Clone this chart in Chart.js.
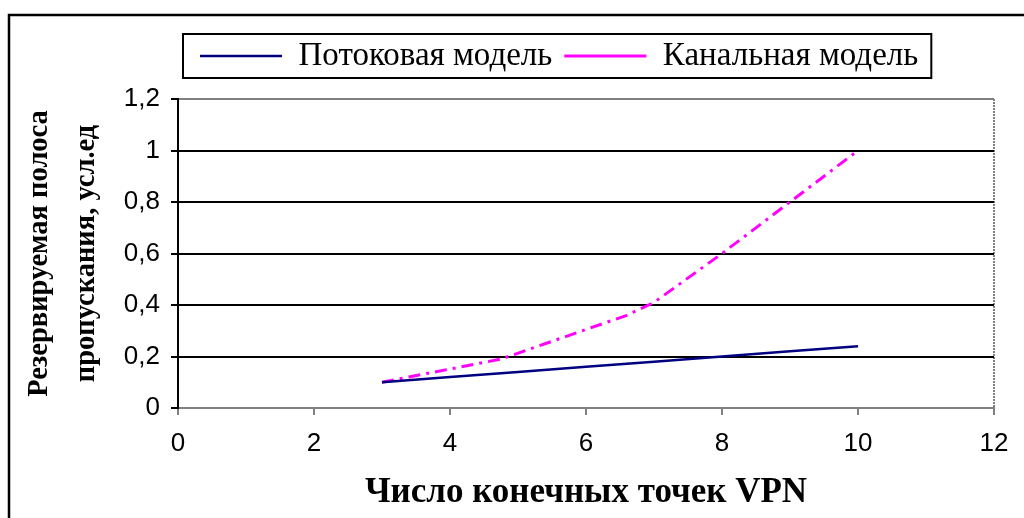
<!DOCTYPE html>
<html>
<head>
<meta charset="utf-8">
<script src="https://cdn.jsdelivr.net/npm/chart.js@4/dist/chart.umd.min.js"></script>
<style>
  html, body { margin: 0; padding: 0; background: #fff; }
  canvas { display: block; }
</style>
</head>
<body>
<canvas id="c" width="1024" height="518" style="width:1024px;height:518px"></canvas>
<script>
// Reserved bandwidth vs. number of VPN endpoints
const seriesNames = ['Потоковая модель', 'Канальная модель'];
const flowX = [3, 4, 5, 6, 7, 8, 9, 10];
const flowY = [0.1, 0.12, 0.14, 0.16, 0.18, 0.2, 0.22, 0.24];
const channelX = [3, 4.75, 6.6, 7, 8, 9, 10];
const channelY = [0.1, 0.19, 0.36, 0.41, 0.6, 0.8, 1.0];
const xTicks = [0, 2, 4, 6, 8, 10, 12];
const yTicks = [0, 0.2, 0.4, 0.6, 0.8, 1, 1.2];
const xTitle = 'Число конечных точек VPN';
const yTitle = ['Резервируемая полоса', 'пропускания, усл.ед'];

const toPoints = (xs, ys) => xs.map((x, i) => ({ x, y: ys[i] }));

// Legend sits in its own framed box above the plot, a little left of centre
const LEGEND_LEFT = 188;
const LEGEND_TOP = 27.5;

const framePlugin = {
  id: 'frames',
  afterLayout(chart) {
    const lg = chart.legend;
    if (!lg) return;
    const h = lg.bottom - lg.top;
    const w = lg.right - lg.left;
    lg.left = LEGEND_LEFT;
    lg.right = LEGEND_LEFT + w;
    lg.top = LEGEND_TOP;
    lg.bottom = LEGEND_TOP + h;
  },
  afterDraw(chart) {
    const ctx = chart.ctx;
    ctx.save();
    ctx.strokeStyle = '#000';
    ctx.lineWidth = 2.5;
    ctx.strokeRect(9, 15, 1040, 540);
    const boxes = chart.legend.legendHitBoxes;
    if (boxes && boxes.length) {
      const l = Math.min(...boxes.map(b => b.left)) - 17;
      const r = Math.max(...boxes.map(b => b.left + b.width)) + 13;
      const t = Math.min(...boxes.map(b => b.top)) - 5.5;
      const b2 = Math.max(...boxes.map(b => b.top + b.height)) + 5.5;
      ctx.lineWidth = 2;
      ctx.strokeRect(l, t, r - l, b2 - t);
    }
    ctx.restore();
  }
};

const fmt = v => String(Math.round(v * 10) / 10).replace('.', ',');

new Chart(document.getElementById('c'), {
  type: 'line',
  data: {
    datasets: [
      {
        label: seriesNames[0],
        data: toPoints(flowX, flowY),
        borderColor: '#000080',
        backgroundColor: '#000080',
        borderWidth: 2.5,
        pointRadius: 0,
        tension: 0
      },
      {
        label: seriesNames[1],
        data: toPoints(channelX, channelY),
        borderColor: '#ff00ff',
        backgroundColor: '#ff00ff',
        borderWidth: 3,
        borderDash: [12, 6, 3, 6],
        pointRadius: 0,
        tension: 0
      }
    ]
  },
  options: {
    responsive: false,
    animation: false,
    devicePixelRatio: 1,
    layout: { padding: { left: 0, right: 30, top: 44, bottom: 0 } },
    plugins: {
      tooltip: { enabled: false },
      legend: {
        position: 'top',
        align: 'start',
        labels: {
          usePointStyle: true,
          pointStyle: 'line',
          pointStyleWidth: 82,
          boxHeight: 4,
          padding: 12,
          color: '#000',
          font: { family: 'Liberation Serif', size: 33 }
        }
      }
    },
    scales: {
      x: {
        type: 'linear',
        min: 0,
        max: 12,
        afterBuildTicks(scale) { scale.ticks = xTicks.map(v => ({ value: v })); },
        afterFit(scale) { scale.height = 110; },
        ticks: {
          color: '#000',
          font: { family: 'Liberation Sans', size: 26 },
          padding: 13,
          maxRotation: 0,
          callback: v => fmt(v)
        },
        grid: {
          color: ctx => (ctx.tick && ctx.tick.value === 12 ? '#808080' : 'rgba(0,0,0,0)'),
          lineWidth: 2,
          tickColor: '#808080',
          tickLength: 7
        },
        border: { color: '#808080', width: 2, dash: [2, 1] },
        title: {
          display: true,
          text: xTitle,
          color: '#000',
          font: { family: 'Liberation Serif', size: 35, weight: 'bold' },
          padding: { top: 0, bottom: 4 }
        }
      },
      y: {
        type: 'linear',
        min: 0,
        max: 1.2,
        afterBuildTicks(scale) { scale.ticks = yTicks.map(v => ({ value: v })); },
        afterFit(scale) { scale.width = 178; },
        ticks: {
          color: '#000',
          font: { family: 'Liberation Sans', size: 26 },
          padding: 11,
          callback: v => fmt(v)
        },
        grid: {
          color: ctx => (ctx.tick && ctx.tick.value === 1.2 ? '#808080' : '#000'),
          lineWidth: 2,
          tickColor: '#000',
          tickLength: 7
        },
        border: { color: '#000', width: 2 },
        title: {
          display: true,
          text: yTitle,
          color: '#000',
          font: { family: 'Liberation Serif', size: 28.5, weight: 'bold', lineHeight: '47px' },
          padding: { top: 16.5, bottom: 0 }
        }
      }
    }
  },
  plugins: [framePlugin]
});
</script>
</body>
</html>
